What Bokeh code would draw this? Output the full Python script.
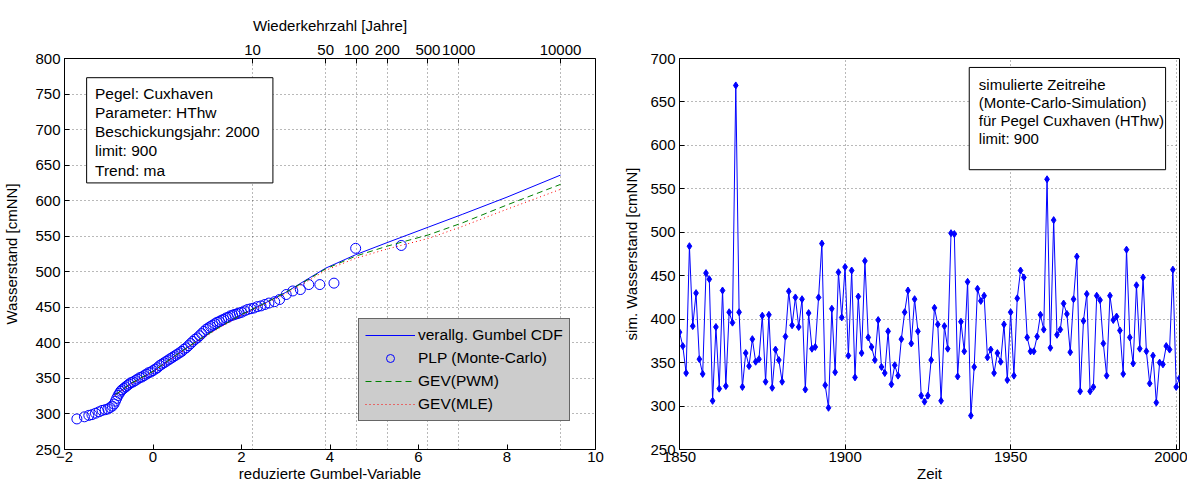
import numpy as np
from bokeh.plotting import figure
from bokeh.layouts import row
from bokeh.models import (LinearAxis, FixedTicker, Legend, LegendItem, Range1d,
                          BoxAnnotation, Label)
from bokeh.embed import file_html
from bokeh.resources import INLINE

FONT = "Liberation Sans"

# ---------------- left panel data ----------------
return_periods = [10, 50, 100, 200, 500, 1000, 10000]
return_period_labels = ["10", "50", "100", "200", "500", "1000", "10000"]

plp_u = [-1.72, -1.55, -1.45, -1.38, -1.30, -1.22, -1.15, -1.08, -1.02, -0.97,
         -0.92, -0.88, -0.85, -0.82, -0.79, -0.76, -0.73, -0.70, -0.66, -0.62,
         -0.58, -0.54, -0.50, -0.45, -0.40, -0.35, -0.30, -0.25, -0.20, -0.15,
         -0.10, -0.05, 0.00, 0.05, 0.10, 0.15, 0.20, 0.25, 0.30, 0.35,
         0.40, 0.45, 0.50, 0.55, 0.60, 0.65, 0.70, 0.75, 0.80, 0.85,
         0.90, 0.95, 1.00, 1.05, 1.10, 1.15, 1.20, 1.25, 1.30, 1.35,
         1.40, 1.45, 1.50, 1.55, 1.60, 1.65, 1.70, 1.75, 1.80, 1.85,
         1.90, 1.95, 2.00, 2.07, 2.14, 2.21, 2.28, 2.36, 2.44, 2.53,
         2.62, 2.75, 2.86, 3.01, 3.16, 3.33, 3.52, 3.77, 4.09, 4.58, 5.61]
plp_v = [293, 296, 298, 299, 301, 303, 305, 306, 307, 309,
         311, 314, 318, 322, 326, 329, 332, 334, 336, 338,
         340, 342, 344, 345, 347, 349, 351, 352, 354, 356,
         358, 359, 361, 363, 365, 368, 370, 372, 374, 376,
         378, 380, 382, 384, 386, 388, 391, 393, 396, 399,
         402, 405, 407, 410, 413, 416, 419, 421, 423, 425,
         427, 429, 430, 432, 433, 435, 436, 438, 439, 440,
         441, 442, 443, 445, 447, 448, 449, 451, 452, 454,
         456, 458, 461, 468, 473, 475, 482, 482, 484, 533, 537]

curve_u = [-0.85, -0.5, 0.0, 0.5, 1.0, 1.5, 2.0, 2.5, 3.0, 3.5, 3.9, 4.58, 5.29, 6.23, 7.0, 8.0, 9.21]
gumbel_cdf = [327, 343, 360, 382, 403, 422, 440, 455, 471, 490, 505, 524, 541, 563, 581, 605, 636]
gev_pwm = [327, 343, 360, 382, 403, 422, 440, 455, 471, 489, 504, 522, 536, 552, 569, 594, 623]
gev_mle = [326, 342, 359, 381, 402, 421, 439, 454, 469, 487, 502, 519, 532, 547, 564, 588, 616]

info_lines = ["Pegel: Cuxhaven", "Parameter: HThw", "Beschickungsjahr: 2000",
              "limit: 900", "Trend: ma"]

# ---------------- right panel data ----------------
sim_level = [385, 369, 338, 484, 392, 430, 354, 337, 453, 446,
             306, 391, 320, 433, 323, 408, 396, 669, 408, 322,
             361, 346, 377, 351, 354, 404, 328, 405, 321, 365,
             353, 328, 380, 432, 393, 425, 391, 423, 319, 407,
             366, 368, 425, 487, 324, 298, 412, 339, 454, 402,
             460, 358, 456, 333, 426, 361, 467, 379, 368, 353,
             399, 345, 338, 386, 325, 347, 335, 377, 408, 433,
             372, 423, 386, 312, 305, 312, 353, 413, 394, 306,
             392, 366, 499, 498, 334, 397, 363, 443, 289, 345,
             435, 421, 427, 356, 365, 338, 361, 351, 394, 330,
             408, 335, 424, 456, 448, 379, 363, 363, 380, 405,
             388, 561, 367, 514, 382, 388, 418, 406, 362, 423,
             472, 317, 398, 429, 317, 322, 427, 422, 372, 335,
             427, 399, 403, 387, 337, 480, 379, 349, 439, 366,
             448, 363, 326, 358, 304, 350, 348, 369, 365, 457,
             322, 332]
years = list(range(1850, 1850 + len(sim_level)))
sim_info_lines = ["simulierte Zeitreihe", "(Monte-Carlo-Simulation)",
                  "für Pegel Cuxhaven (HThw)", "limit: 900"]


def style_axis(ax, label_size="15px"):
    ax.axis_line_color = "black"
    ax.major_tick_line_color = "black"
    ax.major_tick_in = 5
    ax.major_tick_out = 0
    ax.minor_tick_line_color = None
    ax.major_label_text_font = FONT
    ax.major_label_text_font_size = label_size
    ax.major_label_text_color = "black"
    ax.axis_label_text_font = FONT
    ax.axis_label_text_font_size = "15px"
    ax.axis_label_text_font_style = "normal"
    ax.axis_label_text_color = "black"


def style_grid(g):
    g.grid_line_color = "black"
    g.grid_line_alpha = 0.55
    g.grid_line_dash = "1 3"


# ================= left figure =================
p1 = figure(width=612, height=484, x_range=Range1d(-2, 10), y_range=Range1d(250, 800),
            output_backend="svg", toolbar_location=None,
            min_border_left=62, min_border_right=17, min_border_top=49, min_border_bottom=32)
p1.outline_line_color = "black"
p1.background_fill_color = "white"
p1.border_fill_color = "white"

top_ticks = [float(-np.log(-np.log(1.0 - 1.0 / T))) for T in return_periods]

p1.xaxis.ticker = FixedTicker(ticks=list(range(-2, 11, 2)))
p1.yaxis.ticker = FixedTicker(ticks=list(range(250, 801, 50)))
p1.xaxis.axis_label = "reduzierte Gumbel-Variable"
p1.yaxis.axis_label = "Wasserstand [cmNN]"
style_axis(p1.xaxis[0])
style_axis(p1.yaxis[0])
p1.xaxis.major_label_standoff = 2
p1.xaxis.axis_label_standoff = 0
p1.yaxis.major_label_standoff = 4
p1.yaxis.axis_label_standoff = 12

top_axis = LinearAxis(ticker=FixedTicker(ticks=top_ticks),
                      major_label_overrides={t: s for t, s in zip(top_ticks, return_period_labels)},
                      axis_label="Wiederkehrzahl [Jahre]")
style_axis(top_axis)
top_axis.major_label_standoff = 4
top_axis.axis_label_standoff = 8
p1.add_layout(top_axis, "above")

p1.xgrid.ticker = FixedTicker(ticks=top_ticks)
style_grid(p1.xgrid[0])
style_grid(p1.ygrid[0])

r_plp = p1.scatter(plp_u, plp_v, size=10, marker="circle", fill_color=None,
                   line_color="#0000ff", line_width=1)
r_gum = p1.line(curve_u, gumbel_cdf, line_color="#0000ff", line_width=1)
r_pwm = p1.line(curve_u, gev_pwm, line_color="#008000", line_width=1, line_dash="6 4")
r_mle = p1.line(curve_u, gev_mle, line_color="#ff0000", line_width=1, line_dash="1 3")

legend = Legend(items=[LegendItem(label="verallg. Gumbel CDF", renderers=[r_gum]),
                       LegendItem(label="PLP (Monte-Carlo)", renderers=[r_plp]),
                       LegendItem(label="GEV(PWM)", renderers=[r_pwm]),
                       LegendItem(label="GEV(MLE)", renderers=[r_mle])],
                location=(294, 28))
legend.background_fill_color = "#cccccc"
legend.background_fill_alpha = 1.0
legend.border_line_color = "black"
legend.border_line_width = 1
legend.label_text_font = FONT
legend.label_text_font_size = "15.5px"
legend.label_text_color = "black"
legend.glyph_width = 50
legend.glyph_height = 20
legend.label_height = 20
legend.label_standoff = 3
legend.spacing = 3
legend.padding = 6
legend.margin = 0
p1.add_layout(legend, "center")

p1.add_layout(BoxAnnotation(left=-1.50, right=2.71, bottom=625, top=773,
                            fill_color="white", fill_alpha=1.0,
                            line_color="black", line_width=1, line_alpha=1.0))
for i, line in enumerate(info_lines):
    p1.add_layout(Label(x=-1.31, y=751 - i * 27, text=line, text_font=FONT,
                        text_font_size="15.5px", text_color="black", text_baseline="middle"))

# ================= right figure =================
p2 = figure(width=575, height=484, x_range=Range1d(1850, 2001), y_range=Range1d(250, 700),
            output_backend="svg", toolbar_location=None,
            min_border_left=67, min_border_right=8, min_border_top=58, min_border_bottom=32)
p2.outline_line_color = "black"
p2.xaxis.ticker = FixedTicker(ticks=[1850, 1900, 1950, 2000])
p2.yaxis.ticker = FixedTicker(ticks=list(range(250, 701, 50)))
p2.xaxis.axis_label = "Zeit"
p2.yaxis.axis_label = "sim. Wasserstand [cmNN]"
style_axis(p2.xaxis[0])
style_axis(p2.yaxis[0])
p2.xaxis.major_label_standoff = 2
p2.xaxis.axis_label_standoff = 0
p2.yaxis.major_label_standoff = 4
p2.yaxis.axis_label_standoff = 7
style_grid(p2.xgrid[0])
style_grid(p2.ygrid[0])

p2.line(years, sim_level, line_color="#0000ff", line_width=1)
p2.scatter(years, sim_level, marker="diamond", size=7, fill_color="#0000ff",
           line_color="#0000ff")

p2.add_layout(BoxAnnotation(left=1937.5, right=1996.8, bottom=572, top=689.7,
                            fill_color="white", fill_alpha=1.0,
                            line_color="black", line_width=1, line_alpha=1.0))
for i, line in enumerate(sim_info_lines):
    p2.add_layout(Label(x=1940.4, y=670.5 - i * 20.8, text=line, text_font=FONT,
                        text_font_size="15px", text_color="black", text_baseline="middle"))

layout = row(p1, p2)
open("out.html", "w").write(file_html(layout, INLINE))
